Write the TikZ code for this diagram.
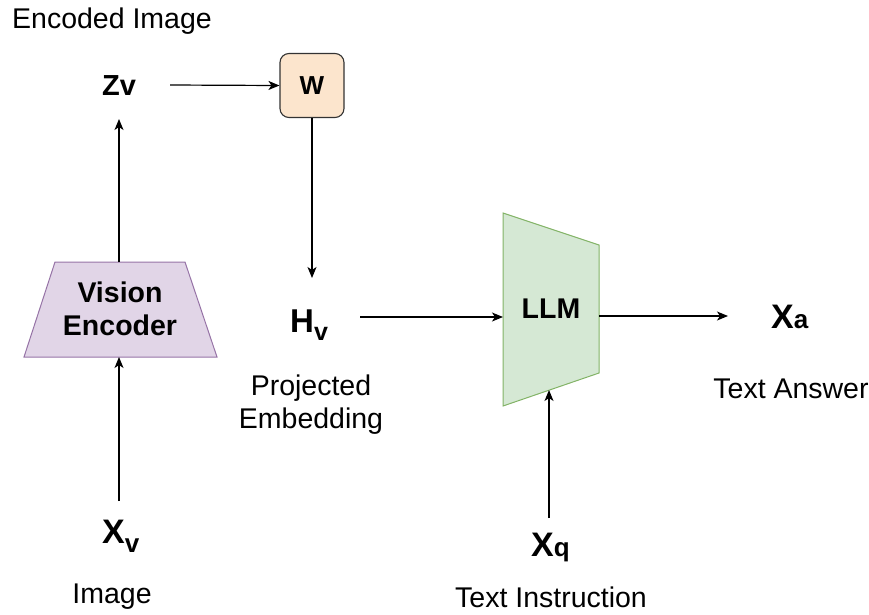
\documentclass[tikz,border=0pt]{standalone}
\usepackage{fontspec}
\setmainfont{Liberation Sans}
\usetikzlibrary{arrows.meta}
\definecolor{wfill}{HTML}{FCE5CD}
\definecolor{wdraw}{HTML}{333333}
\definecolor{encfill}{HTML}{E1D5E7}
\definecolor{encdraw}{HTML}{9673A6}
\definecolor{llmfill}{HTML}{D5E8D4}
\definecolor{llmdraw}{HTML}{82B366}
\tikzset{
  caption/.style={font=\fontsize{28.5}{33}\selectfont, align=center, inner sep=0pt},
  boldlabel/.style={font=\bfseries\fontsize{28.5}{33}\selectfont, align=center, inner sep=0pt},
  varlabel/.style={font=\bfseries, inner sep=0pt},
  flow/.style={line width=1.2pt, -{Stealth[length=11pt,width=9pt,inset=3pt]}},
}
\begin{document}
\begin{tikzpicture}[x=1pt,y=-1pt]
\useasboundingbox (0,0) rectangle (869,614);

% vision encoder trapezoid
\draw[fill=encfill, draw=encdraw, line width=1pt]
  (55,262) -- (185,262) -- (217,357) -- (24,357) -- cycle;
\coordinate (enc-top) at (119,262);
\coordinate (enc-bot) at (119,357);
\node[boldlabel] (enc) at (120,309) {Vision\\Encoder};

% LLM trapezoid
\draw[fill=llmfill, draw=llmdraw, line width=1pt]
  (503,213) -- (599,245) -- (599,373) -- (503,406) -- cycle;
\coordinate (llm-left) at (503,317);
\coordinate (llm-right) at (599,316);
\coordinate (llm-bot) at (549,390);
\node[boldlabel] (llm) at (551,309) {LLM};

% projection matrix
\node[draw=wdraw, fill=wfill, rounded corners=9pt, line width=1.1pt,
      minimum width=64pt, minimum height=64pt, inner sep=0pt,
      font=\bfseries\fontsize{26}{28}\selectfont] (w) at (312,85.5) {W};

% variables
\node[varlabel, font=\bfseries\fontsize{29}{32}\selectfont] (zv) at (119,86) {Zv};
\node[varlabel, anchor=base west] (hv) at (290,332)
  {\fontsize{33}{36}\selectfont H\raisebox{-8pt}{\fontsize{25}{26}\selectfont v}};
\node[varlabel, anchor=base west] (xv) at (102,543)
  {\fontsize{34}{38}\selectfont X\raisebox{-9pt}{\fontsize{26}{28}\selectfont v}};
\node[varlabel, anchor=base west] (xa) at (771,328)
  {\fontsize{34}{38}\selectfont X{\fontsize{26}{30}\selectfont a}};
\node[varlabel, anchor=base west] (xq) at (531,556)
  {\fontsize{34}{38}\selectfont X{\fontsize{26}{30}\selectfont q}};

% captions
\node[caption] (cap-enc) at (112,21) {Encoded Image};
\node[caption] (cap-proj) at (311,405) {Projected\\Embedding};
\node[caption] (cap-ans) at (791,389) {Text Answer};
\node[caption] (cap-img) at (112,597) {Image};
\node[caption] (cap-inst) at (551,597) {Text Instruction};

% coordinates for free arrow ends near text
\coordinate (zv-out) at (170,85);
\coordinate (zv-in) at (119,119);
\coordinate (hv-in) at (312,278);
\coordinate (hv-out) at (360,317);
\coordinate (xa-in) at (728,316);
\coordinate (xv-out) at (119,501);
\coordinate (xq-out) at (549,518);

% connectors
\draw[flow] (zv-out) -- (w.west);
\draw[flow] (w.south) -- (hv-in);
\draw[flow] (hv-out) -- (llm-left);
\draw[flow] (llm-right) -- (xa-in);
\draw[flow] (enc-top) -- (zv-in);
\draw[flow] (xv-out) -- (enc-bot);
\draw[flow] (xq-out) -- (llm-bot);
\end{tikzpicture}
\end{document}
